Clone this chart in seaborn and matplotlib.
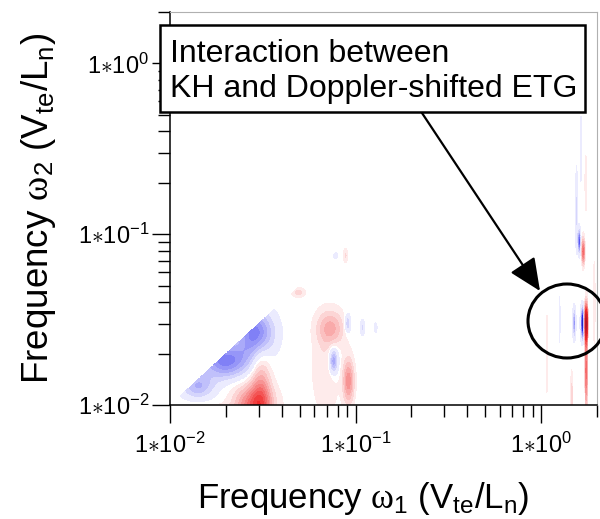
import numpy as np
import matplotlib
matplotlib.use("Agg")
import matplotlib.pyplot as plt
import seaborn as sns
from matplotlib.patches import Rectangle, Ellipse, FancyArrowPatch
from matplotlib.ticker import LogLocator, NullFormatter

# ---------------- data (log10 frequencies of bicoherence features) ----------------
omega1_limits = [1e-2, 2.0]
omega2_limits = [1e-2, 2.0]

# centres (log10 w1, log10 w2), widths (decades) and signed amplitudes
blob_log_w1 = [-1.54, -1.70, -1.85, -1.55, -1.51, -1.85,
               -1.135, -1.16, -1.043, -1.119, -1.038, -0.962, -0.892, -1.308, -1.108, -1.054,
               0.222, 0.243, 0.243, 0.178, 0.205, 0.227, 0.19, 0.215, 0.24, 0.03, 0.286, 0.10, 0.165]
blob_log_w2 = [-1.58, -1.74, -1.89, -2.00, -1.93, -2.02,
               -1.55, -1.80, -1.524, -1.741, -1.86, -1.547, -1.547, -1.341, -1.124, -1.124,
               -1.52, -1.52, -1.80, -1.52, -1.04, -1.10, -0.86, -0.50, -0.70, -1.70, -1.40, -1.50, -1.95]
blob_width_w1 = [0.065, 0.09, 0.06, 0.07, 0.035, 0.12,
                 0.05, 0.05, 0.012, 0.018, 0.02, 0.008, 0.006, 0.025, 0.01, 0.008,
                 0.005, 0.005, 0.004, 0.005, 0.005, 0.005, 0.004, 0.004, 0.004, 0.003, 0.004, 0.004, 0.004]
blob_width_w2 = [0.09, 0.07, 0.05, 0.08, 0.17, 0.02,
                 0.07, 0.18, 0.037, 0.055, 0.09, 0.03, 0.02, 0.02, 0.015, 0.03,
                 0.05, 0.07, 0.15, 0.05, 0.04, 0.05, 0.15, 0.15, 0.12, 0.25, 0.2, 0.12, 0.1]
blob_amplitude = [-0.32, -0.31, -0.18, 0.33, 0.20, 0.08,
                  0.18, 0.07, -0.16, -0.26, 0.25, -0.10, -0.07, 0.09, -0.06, 0.08,
                  -0.95, 0.85, 0.35, -0.35, -0.60, 0.35, -0.12, -0.06, 0.07, 0.05, 0.06, -0.05, 0.10]

tick_values = [1e-2, 1e-1, 1e0]
tick_labels = [r"$\mathrm{1{\ast}10^{-2}}$", r"$\mathrm{1{\ast}10^{-1}}$", r"$\mathrm{1{\ast}10^{0}}$"]

xlabel = r"Frequency $\omega_{\mathrm{1}}$ $\mathrm{(V_{te}/L_{n})}$"
ylabel = r"Frequency $\omega_{\mathrm{2}}$ $\mathrm{(V_{te}/L_{n})}$"
note_lines = ["Interaction between", "KH and Doppler-shifted ETG"]

# ---------------- style ----------------
sns.set_theme(style="white")
plt.rcParams["font.family"] = ["Liberation Sans", "DejaVu Sans"]
plt.rcParams["mathtext.fontset"] = "custom"
plt.rcParams["mathtext.rm"] = "Liberation Sans"
plt.rcParams["mathtext.it"] = "Liberation Serif"
plt.rcParams["mathtext.bf"] = "Liberation Sans:bold"
for key in ("text.color", "axes.labelcolor", "xtick.color", "ytick.color"):
    plt.rcParams[key] = "black"

# ---------------- field ----------------
u = np.linspace(np.log10(omega1_limits[0]), np.log10(omega1_limits[1]), 900)
v = np.linspace(np.log10(omega2_limits[0]), np.log10(omega2_limits[1]), 600)
U, V = np.meshgrid(u, v)
Z = np.zeros_like(U)
for x0, y0, sx, sy, a in zip(blob_log_w1, blob_log_w2, blob_width_w1, blob_width_w2, blob_amplitude):
    Z += a * np.exp(-((U - x0) ** 2 / (2 * sx ** 2) + (V - y0) ** 2 / (2 * sy ** 2)))
Z[V > U] = 0.0
Z = np.clip(Z, -1.0, 1.0)
Zm = np.ma.masked_where(np.abs(Z) < 0.025, Z)

W, H = 600, 519
fig = plt.figure(figsize=(W / 100, H / 100), dpi=100, facecolor="white")
ax = fig.add_axes([170 / W, 1 - 405 / H, 427 / W, 393 / H])
ax.set_facecolor("white")
ax.set_xscale("log")
ax.set_yscale("log")

levels = np.linspace(-1.025, 1.025, 42)
blue_half = sns.blend_palette(["#1c1c7a", "#2a2af0", "#ffffff"], n_colors=21)
red_half = sns.blend_palette(["#ffffff", "#f02a2a", "#a0102a"], n_colors=21)
band_colors = list(blue_half[:-1]) + [(1.0, 1.0, 1.0)] + list(red_half[1:])
ax.contourf(10 ** U, 10 ** V, Zm, levels=levels, colors=band_colors)

ax.set_xlim(*omega1_limits)
ax.set_ylim(*omega2_limits)

ax.set_xticks(tick_values, tick_labels)
ax.set_yticks(tick_values, tick_labels)
for axis in (ax.xaxis, ax.yaxis):
    axis.set_minor_locator(LogLocator(base=10, subs=np.arange(2, 10)))
    axis.set_minor_formatter(NullFormatter())
ax.tick_params(which="both", direction="out", bottom=True, left=True, top=False, right=False,
               color="black", width=1.0)
ax.tick_params(which="major", length=13, labelsize=17, labelcolor="black")
ax.tick_params(which="minor", length=8.5)
ax.tick_params(axis="x", which="major", pad=7)
ax.tick_params(axis="y", which="major", pad=2)

for side in ("left", "bottom"):
    ax.spines[side].set_color("black")
    ax.spines[side].set_linewidth(1.1)
for side in ("top", "right"):
    ax.spines[side].set_color("#b0b0b0")
    ax.spines[side].set_linewidth(0.8)

ax.set_xlabel(xlabel, fontsize=25, color="black")
ax.set_ylabel(ylabel, fontsize=26.5, color="black")
ax.xaxis.set_label_coords(0.452, -0.19)
ax.yaxis.set_label_coords(-0.262, 0.5)

# ---------------- annotation ----------------
def fx(px):
    return px / W

def fy(py):
    return 1 - py / H

box = Rectangle((fx(160), fy(112)), 425 / W, 87 / H, transform=fig.transFigure,
                facecolor="white", edgecolor="black", linewidth=1.8, zorder=5)
fig.add_artist(box)
fig.text(fx(170), fy(62), note_lines[0], fontsize=23, ha="left", va="baseline", zorder=6)
fig.text(fx(170), fy(97), note_lines[1], fontsize=23, ha="left", va="baseline", zorder=6)

arrow = FancyArrowPatch((fx(422), fy(113)), (fx(540), fy(291)), transform=fig.transFigure,
                        arrowstyle="-|>,head_length=1.0,head_width=0.45", mutation_scale=20,
                        linewidth=1.6, color="black", shrinkA=0, shrinkB=0, zorder=5)
fig.add_artist(arrow)

ell = Ellipse((fx(567), fy(321)), 78 / W, 74 / H, transform=fig.transFigure,
              fill=False, edgecolor="black", linewidth=2.2, zorder=5)
fig.add_artist(ell)

fig.savefig("out.png", dpi=100, facecolor="white")
